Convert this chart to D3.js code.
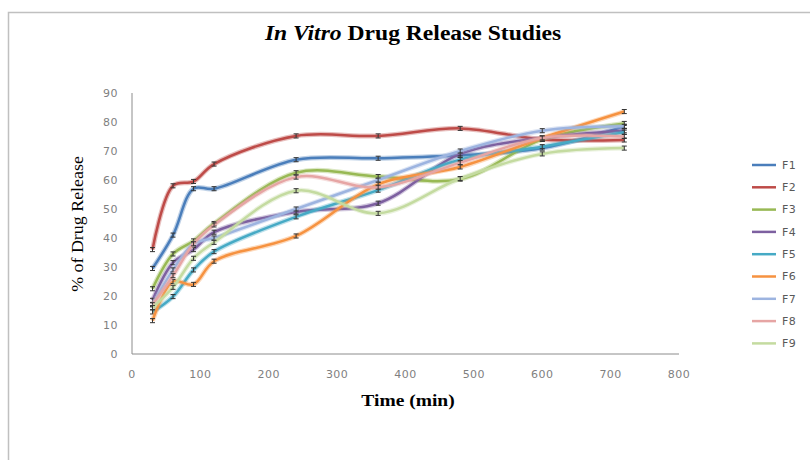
<!DOCTYPE html>
<html>
<head>
  <script src="https://d3js.org/d3.v7.min.js"></script>
  <style>
    body { margin: 0; background: #fff; }
    .tick-label { font: 11px "DejaVu Sans", sans-serif; fill: #7f7f7f; letter-spacing: 0.5px; }
    .legend { font: 11px "DejaVu Sans", sans-serif; fill: #595959; letter-spacing: 0.5px; }
    .title { font: bold 20px "Liberation Serif", serif; }
    .axis-label { font: bold 16px "Liberation Serif", serif; }
  </style>
</head>
<body>
  <div id="chart"></div>
  <script>
    // sampling times (min)
    const times = [30, 60, 90, 120, 240, 360, 480, 600, 720];
    const seriesNames = ["F1", "F2", "F3", "F4", "F5", "F6", "F7", "F8", "F9"];
    const F1 = [29.5, 41, 57, 57, 67, 67.5, 68.5, 71, 78.5];
    const F2 = [36, 58, 59.5, 65.5, 75.2, 75.2, 77.8, 74, 73.8];
    const F3 = [22.5, 34.5, 39, 45, 62.5, 61.2, 60.3, 74, 79.5];
    const F4 = [18.5, 31.5, 36, 42, 49, 52, 69, 74.5, 77];
    const F5 = [14.5, 19.8, 29, 35.3, 47.3, 56.5, 67, 71.5, 76.5];
    const F6 = [11.5, 25, 24, 32, 40.7, 58.5, 64.5, 74.5, 83.6];
    const F7 = [17, 29, 38, 40, 50, 60, 70, 77, 78.5];
    const F8 = [17, 27, 38, 44.5, 61, 57.5, 66, 74.5, 75];
    const F9 = [16, 23, 33, 38.5, 56.3, 48.5, 60.5, 69, 71];
    const errors = [0.7, 0.7, 0.7, 0.7, 0.7, 0.7, 0.7, 0.7, 0.7];
    const colors = ["#4a7ebb", "#be4b48", "#98b954", "#7d60a0", "#46aac5", "#f69240", "#9db4e0", "#e6a5a4", "#c4dba0"];
    const xTicks = [0, 100, 200, 300, 400, 500, 600, 700, 800];
    const yTicks = [0, 10, 20, 30, 40, 50, 60, 70, 80, 90];

    const allValues = [F1, F2, F3, F4, F5, F6, F7, F8, F9];
    const data = seriesNames.map((name, i) => ({
      name: name,
      color: colors[i],
      values: times.map((t, j) => ({ t: t, v: allValues[i][j], e: errors[j] }))
    }));

    const W = 810, H = 460;
    const svg = d3.select("#chart").append("svg")
      .attr("width", W)
      .attr("height", H);

    // outer frame
    svg.append("path")
      .attr("d", `M8.5,${H}V12.5H${W}`)
      .attr("fill", "none")
      .attr("stroke", "#c0c0c0")
      .attr("stroke-width", 1.5);

    const x = d3.scaleLinear().domain([0, 800]).range([132, 679]);
    const y = d3.scaleLinear().domain([0, 90]).range([354, 93]);

    // axes
    svg.append("line")
      .attr("x1", x(0)).attr("x2", x(0))
      .attr("y1", y(0)).attr("y2", y(90))
      .attr("stroke", "#8c8c8c");
    svg.append("line")
      .attr("x1", x(0)).attr("x2", x(800))
      .attr("y1", y(0)).attr("y2", y(0))
      .attr("stroke", "#8c8c8c");

    svg.selectAll(".ytick")
      .data(yTicks)
      .enter().append("text")
      .attr("class", "tick-label")
      .attr("text-anchor", "end")
      .attr("x", x(0) - 14)
      .attr("y", d => y(d))
      .attr("dy", "0.35em")
      .text(d => d);

    svg.selectAll(".xtick")
      .data(xTicks)
      .enter().append("text")
      .attr("class", "tick-label")
      .attr("text-anchor", "middle")
      .attr("x", d => x(d))
      .attr("y", y(0) + 24)
      .text(d => d);

    // titles (the original text is drawn a bit wide, so stretch it)
    const title = svg.append("text")
      .attr("class", "title")
      .attr("text-anchor", "middle")
      .attr("transform", "translate(413,40) scale(1.18,1)");
    title.append("tspan").attr("font-style", "italic").text("In Vitro");
    title.append("tspan").text(" Drug Release Studies");

    svg.append("text")
      .attr("class", "axis-label")
      .attr("text-anchor", "middle")
      .attr("transform", "translate(408,406) scale(1.22,1)")
      .text("Time (min)");

    svg.append("text")
      .attr("class", "axis-label")
      .attr("text-anchor", "middle")
      .attr("transform", "translate(83,224) rotate(-90) scale(1.12,1)")
      .style("font-weight", "normal")
      .text("% of Drug Release");

    // lines
    const line = d3.line()
      .x(d => x(d.t))
      .y(d => y(d.v))
      .curve(d3.curveCatmullRom.alpha(0.5));

    const series = svg.append("g")
      .selectAll("g")
      .data(data)
      .enter().append("g");

    series.append("path")
      .attr("d", d => line(d.values))
      .attr("fill", "none")
      .attr("stroke", d => d.color)
      .attr("stroke-opacity", 0.35)
      .attr("stroke-width", 5);

    series.append("path")
      .attr("d", d => line(d.values))
      .attr("fill", "none")
      .attr("stroke", d => d.color)
      .attr("stroke-width", 2.5);

    // error bars
    const eb = series.selectAll(".eb")
      .data(d => d.values)
      .enter().append("g")
      .attr("stroke", "#333")
      .attr("stroke-width", 1);
    eb.append("line")
      .attr("x1", d => x(d.t)).attr("x2", d => x(d.t))
      .attr("y1", d => y(d.v - d.e)).attr("y2", d => y(d.v + d.e));
    eb.append("line")
      .attr("x1", d => x(d.t) - 2.5).attr("x2", d => x(d.t) + 2.5)
      .attr("y1", d => y(d.v + d.e)).attr("y2", d => y(d.v + d.e));
    eb.append("line")
      .attr("x1", d => x(d.t) - 2.5).attr("x2", d => x(d.t) + 2.5)
      .attr("y1", d => y(d.v - d.e)).attr("y2", d => y(d.v - d.e));

    // legend
    const legend = svg.append("g")
      .attr("transform", "translate(752,165)");
    const items = legend.selectAll("g")
      .data(data)
      .enter().append("g")
      .attr("transform", (d, i) => `translate(0,${i * 22.3})`);
    items.append("line")
      .attr("x1", 0).attr("x2", 24)
      .attr("stroke", d => d.color)
      .attr("stroke-width", 2.5);
    items.append("text")
      .attr("class", "legend")
      .attr("x", 30)
      .attr("dy", "0.35em")
      .text(d => d.name);
  </script>
</body>
</html>
